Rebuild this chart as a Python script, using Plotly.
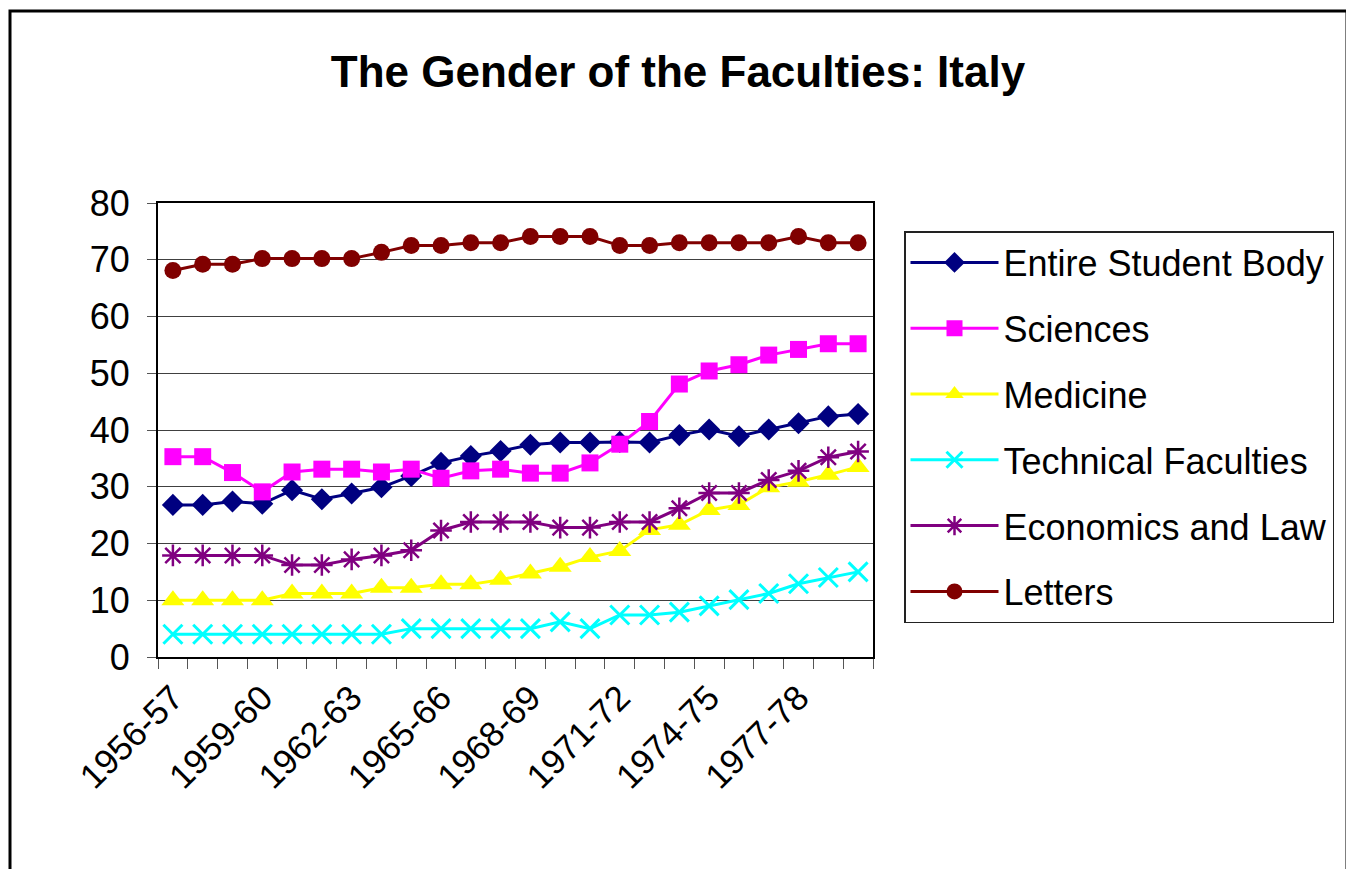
import plotly.graph_objects as go

years = ["1956-57", "1957-58", "1958-59", "1959-60", "1960-61", "1961-62", "1962-63", "1963-64",
         "1964-65", "1965-66", "1966-67", "1967-68", "1968-69", "1969-70", "1970-71", "1971-72",
         "1972-73", "1973-74", "1974-75", "1975-76", "1976-77", "1977-78", "1978-79", "1979-80"]

entire = [26.8, 26.8, 27.4, 27.0, 29.4, 27.8, 28.8, 29.9, 31.9, 34.2, 35.4, 36.3,
          37.4, 37.8, 37.8, 37.9, 37.8, 39.1, 40.1, 38.9, 40.1, 41.2, 42.4, 42.8]
sciences = [35.3, 35.3, 32.5, 29.1, 32.6, 33.1, 33.1, 32.6, 33.1, 31.5, 32.8, 33.1,
            32.4, 32.4, 34.2, 37.5, 41.5, 48.1, 50.4, 51.5, 53.2, 54.2, 55.2, 55.2]
medicine = [10.0, 10.0, 10.0, 10.0, 11.2, 11.2, 11.2, 12.2, 12.2, 12.8, 12.8, 13.6,
            14.7, 15.9, 17.6, 18.7, 22.4, 23.3, 25.9, 26.8, 29.9, 30.9, 32.1, 33.5]
technical = [4.0, 4.0, 4.0, 4.0, 4.0, 4.0, 4.0, 4.0, 5.0, 5.0, 5.0, 5.0,
             5.0, 6.2, 5.0, 7.4, 7.4, 7.9, 9.0, 10.1, 11.2, 12.9, 14.0, 15.0]
economics = [17.9, 17.9, 17.9, 17.9, 16.2, 16.2, 17.2, 17.9, 18.8, 22.3, 23.8, 23.8,
             23.8, 22.8, 22.8, 23.8, 23.8, 26.2, 28.9, 28.9, 31.2, 32.8, 35.2, 36.2]
letters = [68.1, 69.2, 69.2, 70.2, 70.2, 70.2, 70.2, 71.3, 72.5, 72.5, 73.0, 73.0,
           74.1, 74.1, 74.1, 72.5, 72.5, 73.0, 73.0, 73.0, 73.0, 74.1, 73.0, 73.0]

series_names = ["Entire Student Body", "Sciences", "Medicine", "Technical Faculties",
                "Economics and Law", "Letters"]
y_ticks = [0, 10, 20, 30, 40, 50, 60, 70, 80]
x_labels = [y if i % 3 == 0 and i <= 21 else "" for i, y in enumerate(years)]

FONT = "Liberation Sans, Arial, sans-serif"

styles = [
    dict(color="#000080", symbol="diamond", size=17, lw=0),
    dict(color="#FF00FF", symbol="square", size=17, lw=0),
    dict(color="#FFFF00", symbol="triangle-up", size=20, lw=0),
    dict(color="#00FFFF", symbol="x-thin-open", size=19, lw=3),
    dict(color="#800080", symbol="asterisk-open", size=18, lw=2.5),
    dict(color="#800000", symbol="circle", size=17, lw=0),
]
values = [entire, sciences, medicine, technical, economics, letters]

fig = go.Figure()
for name, vals, st in zip(series_names, values, styles):
    fig.add_trace(go.Scatter(
        x=years, y=vals, name=name, mode="lines+markers",
        legendgroup=name,
        line=dict(color=st["color"], width=3),
        marker=dict(symbol=st["symbol"], size=st["size"], color=st["color"],
                    line=dict(color=st["color"], width=st["lw"])),
    ))

# page has an 8px body margin; work in figure coordinates
OFF = 8
W, H = 1354 - OFF, 869 - OFF
L, T = 158 - OFF, 203 - OFF
plot_right, plot_bottom = 873 - OFF, 657 - OFF
R, B = W - plot_right, H - plot_bottom
pw = plot_right - L
ph = plot_bottom - T


def px(xp):
    return (xp - OFF - L) / pw


def py(yp):
    return (plot_bottom - (yp - OFF)) / ph


fig.update_layout(
    width=W, height=H,
    margin=dict(l=L, r=R, t=T, b=B, autoexpand=False),
    paper_bgcolor="white", plot_bgcolor="white",
    font=dict(family=FONT, color="black"),
    title=dict(text="<b>The Gender of the Faculties: Italy</b>",
               x=(678 - OFF) / W, xanchor="center", xref="container",
               y=1 - (72 - OFF) / H, yanchor="middle", yref="container",
               font=dict(size=44, family=FONT, color="black")),
    showlegend=True,
    legend=dict(
        x=px(904), xanchor="left",
        y=py(231), yanchor="top",
        bordercolor="#222222", borderwidth=1.5, bgcolor="white",
        font=dict(size=36, family=FONT, color="black"),
        traceorder="grouped", tracegroupgap=16,
        itemwidth=88,
    ),
    xaxis=dict(
        type="category", range=[-0.5, 23.5],
        tickmode="array", tickvals=years, ticktext=x_labels,
        tickson="boundaries", ticks="outside", ticklen=10, tickcolor="#555555", tickwidth=1,
        tickangle=-45, tickfont=dict(size=35, family=FONT, color="black"),
        ticklabelstandoff=4,
        showgrid=False, showline=True, linecolor="black", linewidth=2, mirror=True,
        zeroline=False,
    ),
    yaxis=dict(
        range=[0, 80], tickmode="array", tickvals=y_ticks,
        ticks="outside", ticklen=9, tickcolor="#555555", tickwidth=1,
        tickfont=dict(size=36, family=FONT, color="black"),
        ticklabelstandoff=10,
        showgrid=True, gridcolor="#404040", gridwidth=1,
        showline=True, linecolor="black", linewidth=2, mirror=True,
        zeroline=False,
    ),
    shapes=[dict(type="rect", xref="paper", yref="paper",
                 x0=px(10), x1=px(1347),
                 y0=py(885), y1=py(11),
                 line=dict(color="black", width=3), fillcolor="rgba(0,0,0,0)", layer="below")],
)

fig.write_html("out.html")
